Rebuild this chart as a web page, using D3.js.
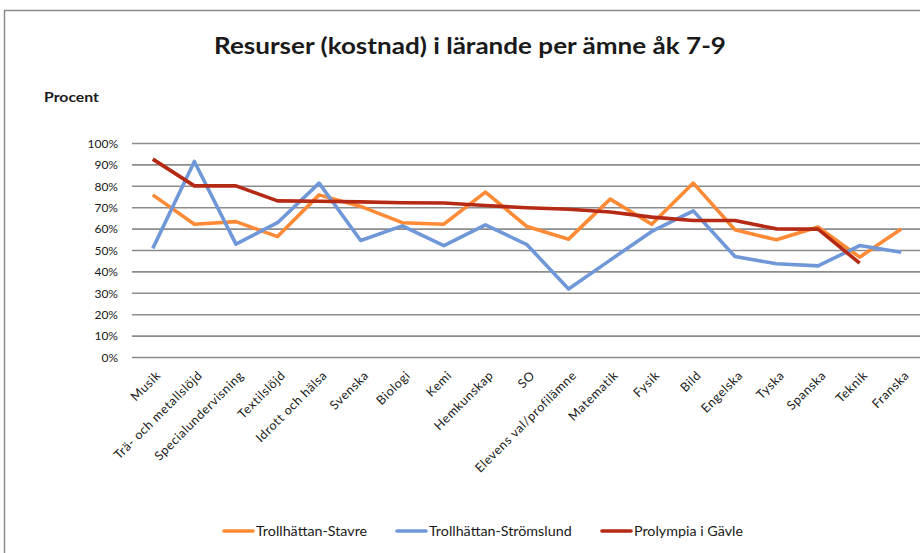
<!DOCTYPE html>
<html>
<head>
<meta charset="utf-8">
<script src="https://cdn.jsdelivr.net/npm/d3@7"></script>
<style>
body{margin:0;background:#fff;}
text{font-family:Lato,"Open Sans",sans-serif;fill:#1a1a1a;}
</style>
</head>
<body>
<svg id="chart" width="920" height="553"></svg>
<script>
'use strict';

var subjects=['Musik','Trä- och metallslöjd','Specialundervisning','Textilslöjd','Idrott och hälsa',
    'Svenska','Biologi','Kemi','Hemkunskap','SO','Elevens val/profilämne','Matematik','Fysik',
    'Bild','Engelska','Tyska','Spanska','Teknik','Franska'];

var stavre=[76,62.3,63.5,56.5,76,70.6,63,62.3,77.3,61.2,55.3,74,62.3,81.5,59.7,55,61,46.9,60];
var stromslund=[51,91.6,53,63,81.5,54.7,61.5,52.3,62,52.7,32,45.5,58.9,68.5,47.2,43.8,42.8,52.3,49.2];
var gavle=[92.7,80.2,80.2,73.2,73,72.7,72.3,72.2,71,70,69.3,68,65.6,64,64,60.1,60,44.1,null];

var yTicks=[0,10,20,30,40,50,60,70,80,90,100];

var series=[
    {name:'Trollhättan-Stavre',values:stavre,color:'#ff8a36'}
  , {name:'Trollhättan-Strömslund',values:stromslund,color:'#7098d8'}
  , {name:'Prolympia i Gävle',values:gavle,color:'#b52a15'}
];

var svg=d3.select('#chart');

// frame
svg.append('rect')
    .attr('x',4.5).attr('y',10.5)
    .attr('width',940).attr('height',560)
    .attr('fill','none')
    .attr('stroke','#8a8a8a')
    .attr('stroke-width',1.5);

var x=d3.scalePoint().domain(subjects).range([132,922]).padding(0.5);
var y=d3.scaleLinear().domain([0,100]).range([357.5,143.5]);

svg.append('text')
    .attr('x',214).attr('y',54)
    .attr('textLength',512)
    .attr('lengthAdjust','spacingAndGlyphs')
    .style('font-size','23.5px')
    .style('font-weight','bold')
    .text('Resurser (kostnad) i lärande per ämne åk 7-9');

svg.append('text')
    .attr('x',44).attr('y',102)
    .attr('textLength',55)
    .attr('lengthAdjust','spacingAndGlyphs')
    .style('font-size','13px')
    .style('font-weight','bold')
    .text('Procent');

// grid
var grid=svg.append('g');
grid.selectAll('line')
    .data(yTicks)
    .enter().append('line')
    .attr('x1',132).attr('x2',920)
    .attr('y1',function(d){return y(d);})
    .attr('y2',function(d){return y(d);})
    .attr('stroke','#8c8c8c')
    .attr('stroke-width',1.6);

var yAxis=svg.append('g')
    .attr('transform','translate(124,0)')
    .call(d3.axisLeft(y).tickValues(yTicks).tickSize(0).tickPadding(6)
        .tickFormat(function(d){return d+'%';}));
yAxis.select('.domain').remove();
yAxis.selectAll('text')
    .style('font-size','12px')
    .style('font-family','Lato,"Open Sans",sans-serif')
    .attr('fill','#1a1a1a');

var xAxis=svg.append('g')
    .attr('transform','translate(0,370)')
    .call(d3.axisBottom(x).tickSize(0).tickPadding(0));
xAxis.select('.domain').remove();
xAxis.selectAll('text')
    .style('font-size','12.5px')
    .style('font-family','Lato,"Open Sans",sans-serif')
    .style('letter-spacing','0.6px')
    .attr('fill','#1a1a1a')
    .attr('text-anchor','end')
    .attr('dy','0.7em')
    .attr('transform','translate(2,0) rotate(-45)');

var line=d3.line()
    .defined(function(d){return d!=null;})
    .x(function(d,i){return x(subjects[i]);})
    .y(function(d){return y(d);});

svg.append('g').selectAll('path')
    .data(series)
    .enter().append('path')
    .attr('d',function(s){return line(s.values);})
    .attr('fill','none')
    .attr('stroke',function(s){return s.color;})
    .attr('stroke-width',3.6)
    .attr('stroke-linejoin','round');

// legend
var legendX=[223,396,601];
var legend=svg.append('g').selectAll('g')
    .data(series)
    .enter().append('g')
    .attr('transform',function(s,i){return 'translate('+legendX[i]+',531)';});
legend.append('line')
    .attr('x1',1).attr('x2',30)
    .attr('stroke',function(s){return s.color;})
    .attr('stroke-width',3.6)
    .attr('stroke-linecap','round');
legend.append('text')
    .attr('x',33).attr('dy','0.36em')
    .style('font-size','14.3px')
    .text(function(s){return s.name;});
</script>
</body>
</html>
